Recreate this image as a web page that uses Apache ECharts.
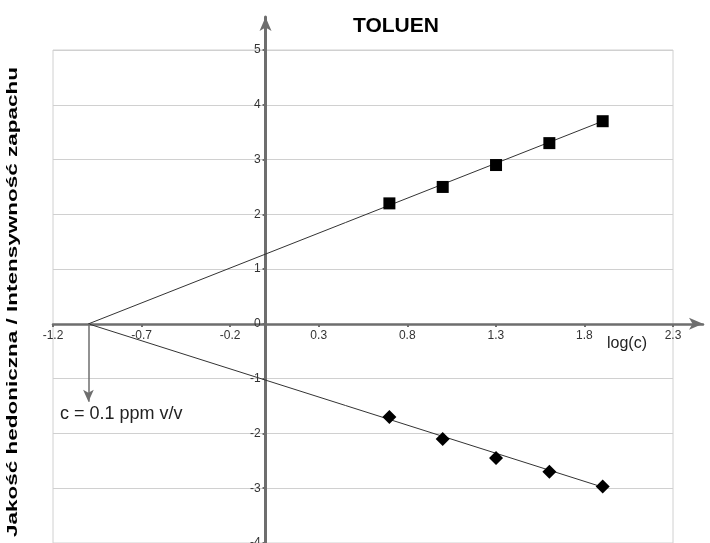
<!DOCTYPE html>
<html>
<head>
<meta charset="utf-8">
<script src="https://cdn.jsdelivr.net/npm/echarts@6/dist/echarts.min.js"></script>
<style>
html,body{margin:0;padding:0;background:#fff;}
#chart{width:710px;height:543px;}
</style>
</head>
<body>
<div id="chart"></div>
<script>
// ---- data ----
const titleText = 'TOLUEN';
const yTitle = 'Jakość hedoniczna / Intensywność zapachu';
const xName = 'log(c)';
const annotation = 'c = 0.1 ppm v/v';
const logC = [0.699, 1.0, 1.301, 1.602, 1.903];
const intensity = [2.2, 2.5, 2.9, 3.3, 3.7];
const hedonic = [-1.7, -2.1, -2.45, -2.7, -2.97];
const trendIntensity = [[-1, 0], [1.903, 3.7]];
const trendHedonic = [[-1, 0], [1.903, -2.98]];
const thresholdMark = [[-1, 0], [-1, -1.42]];
const xMin = -1.2, xMax = 2.3, xStep = 0.5;
const yMin = -4, yMax = 5, yStep = 1;

const FONT = '"Liberation Sans", Arial, sans-serif';
const AX = '#6e6e6e';
const W = 710, H = 543;
const G0 = { left: 53, right: 37, top: 50, bottom: 0 };
const gW = W - G0.left - G0.right, gH = H - G0.top - G0.bottom;
// shift the label-bearing axes from the grid edge to the zero crossing
const xAxisOffset = -gH * (0 - yMin) / (yMax - yMin);
const yAxisOffset = -gW * (0 - xMin) / (xMax - xMin);

const chart = echarts.init(document.getElementById('chart'));
chart.setOption({
  animation: false,
  backgroundColor: '#fff',
  title: {
    text: titleText, left: 348, top: 11,
    textStyle: { fontFamily: FONT, fontSize: 21, fontWeight: 'bold', color: '#000' }
  },
  grid: [
    Object.assign({ show: true, borderColor: '#d0d0d0', borderWidth: 1, containLabel: false, outerBoundsMode: 'none' }, G0),
    { left: 53, right: 7, top: 17, bottom: 0, containLabel: false, outerBoundsMode: 'none' }
  ],
  xAxis: [
    {
      gridIndex: 0, type: 'value', min: xMin, max: xMax, interval: xStep,
      position: 'bottom', offset: xAxisOffset,
      axisLine: { show: false, onZero: false },
      axisTick: { show: true, length: 3, lineStyle: { color: AX, width: 2 } },
      axisLabel: { margin: 6, fontFamily: FONT, fontSize: 12, color: '#333',
        formatter: v => (Math.round(v * 10) / 10).toFixed(1) },
      splitLine: { show: false }
    },
    {
      gridIndex: 1, type: 'value', min: xMin, max: 2.47,
      axisLine: { show: true, onZero: true, symbol: ['none', 'arrow'], symbolSize: [9, 14],
        lineStyle: { color: AX, width: 2.5 } },
      axisTick: { show: false }, axisLabel: { show: false }, splitLine: { show: false }
    }
  ],
  yAxis: [
    {
      gridIndex: 0, type: 'value', min: yMin, max: yMax, interval: yStep,
      position: 'left', offset: yAxisOffset,
      axisLine: { show: false, onZero: false },
      axisTick: { show: true, length: 3, lineStyle: { color: AX, width: 2 } },
      axisLabel: { margin: 5, fontFamily: FONT, fontSize: 12, color: '#333' },
      splitLine: { show: true, lineStyle: { color: '#d0d0d0', width: 1 } }
    },
    {
      gridIndex: 1, type: 'value', min: yMin, max: 5.6,
      axisLine: { show: true, onZero: true, symbol: ['none', 'arrow'], symbolSize: [9, 14],
        lineStyle: { color: AX, width: 3 } },
      axisTick: { show: false }, axisLabel: { show: false }, splitLine: { show: false }
    }
  ],
  series: [
    {
      type: 'line', xAxisIndex: 0, yAxisIndex: 0, data: trendIntensity,
      symbol: 'none', lineStyle: { color: '#333', width: 1 }, z: 3,
      markLine: {
        silent: true, symbol: ['none', 'arrow'], symbolSize: [8, 12],
        lineStyle: { color: AX, width: 1.5, type: 'solid' }, label: { show: false },
        data: [[{ coord: thresholdMark[0] }, { coord: thresholdMark[1] }]]
      }
    },
    {
      type: 'line', xAxisIndex: 0, yAxisIndex: 0, data: trendHedonic,
      symbol: 'none', lineStyle: { color: '#333', width: 1 }, z: 3
    },
    {
      type: 'scatter', xAxisIndex: 0, yAxisIndex: 0,
      data: logC.map((x, i) => [x, intensity[i]]),
      symbol: 'rect', symbolSize: 12, itemStyle: { color: '#000', opacity: 1 }, z: 5
    },
    {
      type: 'scatter', xAxisIndex: 0, yAxisIndex: 0,
      data: logC.map((x, i) => [x, hedonic[i]]),
      symbol: 'diamond', symbolSize: 14, itemStyle: { color: '#000', opacity: 1 }, z: 5
    }
  ],
  graphic: [
    { type: 'text', x: 13, y: 302, rotation: Math.PI / 2, scaleX: 1.5,
      style: { text: yTitle, font: 'bold 15px ' + FONT, fill: '#000',
        textAlign: 'center', textVerticalAlign: 'middle' } },
    { type: 'text', x: 607, y: 336,
      style: { text: xName, font: '16px ' + FONT, fill: '#222', textVerticalAlign: 'top' } },
    { type: 'text', x: 60, y: 405,
      style: { text: annotation, font: '18px ' + FONT, fill: '#222', textVerticalAlign: 'top' } }
  ]
});
</script>
</body>
</html>
